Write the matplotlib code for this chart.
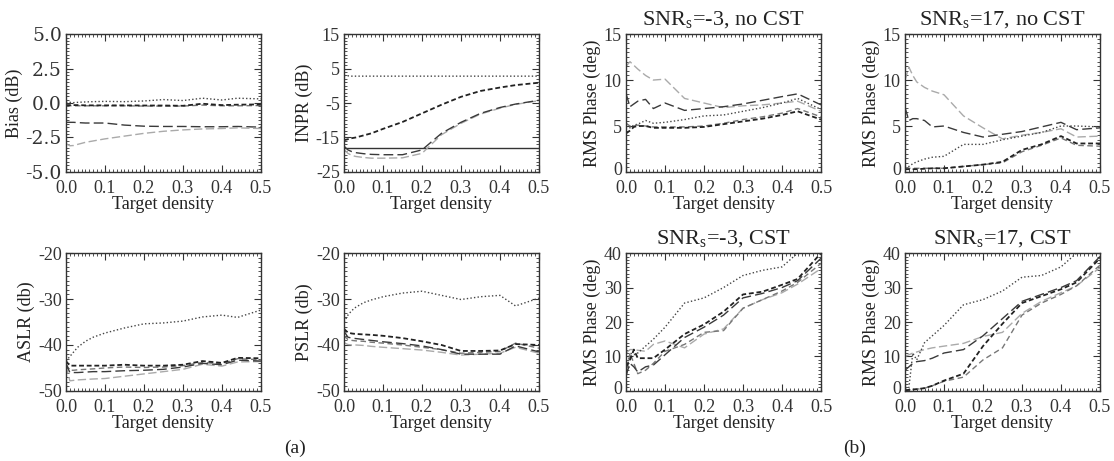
import numpy as np
import matplotlib.pyplot as plt
from matplotlib.ticker import AutoMinorLocator, FormatStrFormatter
from matplotlib.transforms import ScaledTranslation

plt.rcParams['font.family'] = ['Liberation Serif', 'DejaVu Serif']
plt.rcParams['mathtext.fontset'] = 'custom'
plt.rcParams['mathtext.rm'] = 'Liberation Serif'
plt.rcParams['axes.unicode_minus'] = False
plt.rcParams['lines.scale_dashes'] = False

# target density grid shared by all curves
density = [0, .01, .02, .03, .05, .07, .1, .15, .2, .25, .3, .35, .4, .44, .5]

# (a) bias
bias_dot = [0.05, 0.05, 0.03, 0.05, 0.08, 0.1, 0.12, 0.1, 0.15, 0.25, 0.18, 0.35, 0.22, 0.35, 0.3]
bias_blk = [-0.15, -0.15, -0.15, -0.15, -0.17, -0.17, -0.17, -0.17, -0.18, -0.18, -0.2, -0.05, -0.15, -0.12, -0.1]
bias_gry = [-0.2, -0.2, -0.2, -0.2, -0.2, -0.2, -0.2, -0.2, -0.22, -0.22, -0.22, -0.15, -0.2, -0.2, -0.18]
bias_dlg = [-1.4, -1.4, -1.4, -1.42, -1.45, -1.45, -1.45, -1.6, -1.68, -1.7, -1.7, -1.72, -1.72, -1.7, -1.75]
bias_lgt = [-2.95, -3.1, -3.08, -3.0, -2.85, -2.75, -2.6, -2.4, -2.2, -2.05, -1.95, -1.88, -1.85, -1.8, -1.85]

# (a) INPR
inpr_dot = [3.0, 2.9, 2.8, 2.8, 2.8, 2.8, 2.8, 2.8, 2.8, 2.8, 2.8, 2.8, 2.8, 2.8, 2.8]
inpr_blk = [-15.8, -15.5, -15.2, -15.0, -14.4, -13.8, -12.5, -10.5, -8.0, -5.5, -3.2, -1.5, -0.5, 0.2, 0.9]
inpr_dlg = [-17.5, -18.6, -19.1, -19.4, -19.7, -19.9, -20.0, -20.0, -18.6, -13.8, -10.6, -8.0, -6.3, -5.3, -4.2]
inpr_lgt = [-18.5, -19.6, -20.2, -20.5, -20.8, -21.0, -21.0, -20.9, -19.6, -14.2, -10.9, -8.2, -6.5, -5.4, -4.3]
inpr_ref_x = [0.0, 0.5]
inpr_ref = [-18.0, -18.0]

# (a) ASLR
aslr_dot = [-43.5, -42.5, -41.5, -40.5, -39.2, -38.3, -37.4, -36.3, -35.4, -35.2, -34.8, -33.9, -33.5, -34.0, -32.4]
aslr_blk = [-43.5, -44.5, -44.5, -44.5, -44.5, -44.5, -44.5, -44.3, -44.5, -44.5, -44.3, -43.5, -43.9, -42.8, -42.9]
aslr_dlg = [-44.0, -46.0, -46.0, -46.0, -45.9, -45.8, -45.8, -45.6, -45.5, -45.3, -44.8, -44.0, -44.3, -43.3, -43.5]
aslr_gry = [-44.2, -45.5, -45.5, -45.4, -45.3, -45.2, -45.0, -44.8, -44.9, -44.8, -44.5, -43.8, -44.1, -43.0, -43.2]
aslr_lgt = [-44.5, -47.8, -47.7, -47.6, -47.5, -47.4, -47.3, -46.8, -46.3, -45.8, -45.3, -44.2, -44.6, -43.7, -43.6]

# (a) PSLR
pslr_dot = [-35.0, -33.5, -32.5, -31.8, -30.8, -30.2, -29.5, -28.7, -28.3, -29.2, -30.1, -29.5, -29.2, -31.5, -29.8]
pslr_blk = [-36.5, -37.3, -37.5, -37.6, -37.7, -37.8, -38.0, -38.5, -39.2, -40.0, -41.3, -41.3, -41.2, -39.8, -40.0]
pslr_dlg = [-37.0, -38.3, -38.5, -38.6, -38.8, -39.0, -39.3, -39.7, -40.2, -41.0, -42.0, -42.0, -42.0, -40.2, -41.5]
pslr_gry = [-38.0, -38.8, -39.0, -39.1, -39.2, -39.4, -39.6, -40.0, -40.5, -41.0, -41.8, -41.6, -41.4, -39.6, -40.7]
pslr_lgt = [-39.5, -39.9, -40.0, -40.0, -40.1, -40.3, -40.5, -40.8, -41.1, -41.6, -42.2, -42.0, -41.8, -40.5, -41.8]

# (b) SNRs=-3, no CST
p1_dot = [5.0, 4.8, 5.1, 5.2, 5.6, 5.3, 5.4, 5.7, 6.1, 6.2, 6.6, 7.0, 7.5, 8.0, 6.8]
p1_blk = [4.2, 4.5, 4.9, 5.0, 5.0, 4.8, 4.8, 4.8, 4.9, 5.2, 5.5, 5.8, 6.2, 6.6, 5.7]
p1_dlg = [8.5, 7.1, 7.4, 7.7, 7.9, 6.9, 7.5, 6.7, 6.9, 7.1, 7.4, 7.8, 8.2, 8.5, 7.3]
p1_gry = [5.3, 5.0, 5.0, 5.1, 5.0, 4.9, 4.9, 4.9, 5.0, 5.3, 5.7, 6.0, 6.4, 6.9, 6.0]
p1_lgt = [11.5, 12.0, 11.6, 11.2, 10.5, 10.0, 10.1, 8.0, 7.5, 7.0, 7.2, 7.3, 7.5, 7.7, 6.6]

# (b) SNRs=17, no CST
p2_dot = [0.4, 0.6, 0.9, 1.1, 1.4, 1.6, 1.7, 3.0, 3.0, 3.5, 3.9, 4.3, 5.0, 5.0, 4.9]
p2_blk = [0.3, 0.3, 0.3, 0.3, 0.35, 0.4, 0.4, 0.6, 0.8, 1.1, 2.4, 3.0, 3.9, 3.1, 3.1]
p2_dlg = [7.0, 5.6, 5.8, 5.8, 5.6, 4.9, 5.0, 4.3, 3.8, 4.1, 4.4, 4.9, 5.4, 4.6, 4.8]
p2_gry = [0.5, 0.4, 0.4, 0.4, 0.4, 0.4, 0.4, 0.6, 0.8, 1.0, 2.2, 2.9, 3.7, 2.9, 2.8]
p2_lgt = [10.0, 11.4, 10.5, 9.8, 9.2, 8.8, 8.4, 6.1, 4.8, 3.6, 4.0, 4.3, 4.7, 3.8, 3.9]

# (b) SNRs=-3, CST
p3_dot = [5, 11, 10.5, 11, 13, 15, 18.5, 25.5, 27, 30, 33.5, 35, 36, 40, 46]
p3_blk = [7, 9, 12, 9.5, 9.5, 9.5, 12, 16.5, 19.3, 23, 28, 28.8, 30.8, 32.5, 40]
p3_dlg = [4.5, 8, 7, 5.5, 7, 7.5, 10.5, 15.5, 18.5, 22, 27, 28.3, 30, 32, 38.5]
p3_gry = [4, 11, 8, 5, 6, 8, 11.5, 13.5, 17, 17.5, 24, 26.5, 29, 31.5, 37]
p3_lgt = [11, 12, 12, 11.8, 11.5, 13.5, 14.5, 12.5, 16.5, 18, 24, 26.5, 28.5, 31, 35.5]

# (b) SNRs=17, CST
p4_dot = [0.5, 1, 11, 9, 14, 16, 19, 25, 26.5, 29, 33, 33.5, 36, 40, 46]
p4_blk = [0.2, 0.3, 0.4, 0.5, 0.8, 1.5, 3, 5, 13, 19.5, 25.5, 27.5, 29.5, 31.5, 38.5]
p4_dlg = [6, 7, 8, 8.5, 8.8, 9.5, 11, 12, 16, 21, 26, 28, 30, 32, 39]
p4_gry = [0.2, 0.3, 0.4, 0.5, 0.8, 1.5, 2.8, 4, 9, 12.5, 22, 25.5, 28, 30.5, 36.5]
p4_lgt = [10, 10.5, 11, 11.3, 12, 12.5, 13, 13.8, 15.8, 17, 22.5, 26, 28.5, 30.5, 35.8]

STYLES = {
    'dot': dict(color='#444444', lw=1.0, dashes=(1, 1.6)),
    'blk': dict(color='#222222', lw=1.3, dashes=(3.5, 2)),
    'dlg': dict(color='#3a3a3a', lw=1.0, dashes=(7, 3)),
    'gry': dict(color='#777777', lw=1.0, dashes=(4, 2.5)),
    'lgt': dict(color='#aaaaaa', lw=1.0, dashes=(6, 2.5)),
}


def setup_axes(ax, ylim, yticks, ylabel, yfmt='%d', title=None):
    ax.set_xlim(0, 0.5)
    ax.set_ylim(*ylim)
    ax.set_xticks([0, 0.1, 0.2, 0.3, 0.4, 0.5])
    ax.set_yticks(yticks)
    ax.xaxis.set_major_formatter(FormatStrFormatter('%.1f'))
    ax.yaxis.set_major_formatter(FormatStrFormatter(yfmt))
    ax.xaxis.set_minor_locator(AutoMinorLocator(10))
    ax.yaxis.set_minor_locator(AutoMinorLocator(10))
    ax.tick_params(which='both', direction='in', top=True, right=True,
                   labelsize=13, colors='#333333')
    ax.tick_params(axis='x', which='major', pad=5.5)
    ax.tick_params(axis='y', which='major', pad=3)
    ax.tick_params(which='major', length=5, width=0.8)
    ax.tick_params(which='minor', length=2.5, width=0.6)
    for s in ax.spines.values():
        s.set_color('#333333')
        s.set_linewidth(1.0)
    ax.set_xlabel('Target density', fontsize=13, labelpad=-0.5, color='#222222')
    ax.set_ylabel(ylabel, fontsize=13, labelpad=2, color='#222222')
    if title:
        ax.set_title(title, fontsize=16, pad=6, color='#222222')


def raise_zero_label(ax):
    # lift the "0" on the y axis a little so it clears the "0.0" below it
    lbl = ax.yaxis.get_major_ticks()[0].label1
    lbl.set_transform(lbl.get_transform() + ScaledTranslation(0, 2.5 / 72, ax.figure.dpi_scale_trans))


def draw(ax, series):
    for key, y in series:
        ax.plot(density, y, **STYLES[key])


fig = plt.figure(figsize=(11.14, 4.61), dpi=100)
W, H = 0.175, 0.299
lefts = [0.0592, 0.3088, 0.562, 0.8124]
top_b, bot_b = 0.627, 0.152

ax = fig.add_axes([lefts[0], top_b, W, H])
draw(ax, [('dot', bias_dot), ('gry', bias_gry), ('blk', bias_blk), ('dlg', bias_dlg), ('lgt', bias_lgt)])
setup_axes(ax, (-5, 5), [-5, -2.5, 0, 2.5, 5], 'Bias (dB)', '%.1f')
ax.tick_params(axis='y', labelfontfamily='DejaVu Serif', labelsize=13.5)

ax = fig.add_axes([lefts[1], top_b, W, H])
ax.plot(inpr_ref_x, inpr_ref, color='#333333', lw=1.0)
draw(ax, [('dot', inpr_dot), ('blk', inpr_blk), ('lgt', inpr_lgt), ('dlg', inpr_dlg)])
setup_axes(ax, (-25, 15), [-25, -15, -5, 5, 15], 'INPR (dB)')

ax = fig.add_axes([lefts[0], bot_b, W, H])
draw(ax, [('dot', aslr_dot), ('lgt', aslr_lgt), ('gry', aslr_gry), ('dlg', aslr_dlg), ('blk', aslr_blk)])
setup_axes(ax, (-50, -20), [-50, -40, -30, -20], 'ASLR (db)')

ax = fig.add_axes([lefts[1], bot_b, W, H])
draw(ax, [('dot', pslr_dot), ('lgt', pslr_lgt), ('gry', pslr_gry), ('dlg', pslr_dlg), ('blk', pslr_blk)])
setup_axes(ax, (-50, -20), [-50, -40, -30, -20], 'PSLR (db)')

ax = fig.add_axes([lefts[2], top_b, W, H])
draw(ax, [('lgt', p1_lgt), ('dot', p1_dot), ('gry', p1_gry), ('blk', p1_blk), ('dlg', p1_dlg)])
setup_axes(ax, (0, 15), [0, 5, 10, 15], 'RMS Phase (deg)', title=r'SNR$_{\rm s}$=-3, no CST')
raise_zero_label(ax)

ax = fig.add_axes([lefts[3], top_b, W, H])
draw(ax, [('lgt', p2_lgt), ('dot', p2_dot), ('gry', p2_gry), ('blk', p2_blk), ('dlg', p2_dlg)])
setup_axes(ax, (0, 15), [0, 5, 10, 15], 'RMS Phase (deg)', title=r'SNR$_{\rm s}$=17, no CST')
raise_zero_label(ax)

ax = fig.add_axes([lefts[2], bot_b, W, H])
draw(ax, [('lgt', p3_lgt), ('dot', p3_dot), ('gry', p3_gry), ('blk', p3_blk), ('dlg', p3_dlg)])
setup_axes(ax, (0, 40), [0, 10, 20, 30, 40], 'RMS Phase (deg)', title=r'SNR$_{\rm s}$=-3, CST')
raise_zero_label(ax)

ax = fig.add_axes([lefts[3], bot_b, W, H])
draw(ax, [('lgt', p4_lgt), ('dot', p4_dot), ('gry', p4_gry), ('blk', p4_blk), ('dlg', p4_dlg)])
setup_axes(ax, (0, 40), [0, 10, 20, 30, 40], 'RMS Phase (deg)', title=r'SNR$_{\rm s}$=17, CST')
raise_zero_label(ax)

fig.text(0.265, 0.028, '(a)', fontsize=14, ha='center', va='center', color='#222222')
fig.text(0.767, 0.028, '(b)', fontsize=14, ha='center', va='center', color='#222222')

fig.savefig('out.png', dpi=100)
